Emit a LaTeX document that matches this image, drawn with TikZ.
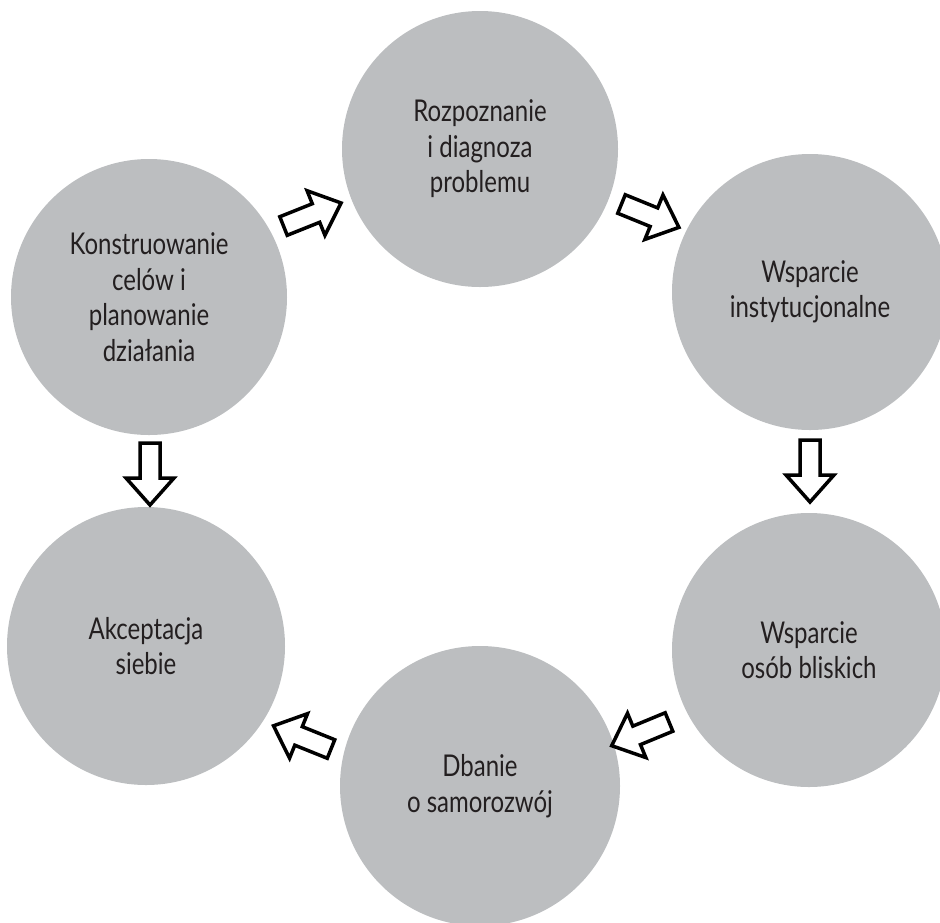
\documentclass[tikz,border=0pt]{standalone}
\usepackage{fontspec}
\setmainfont[FakeStretch=0.8]{Lato}
\usetikzlibrary{calc}
\definecolor{circ}{RGB}{188,190,192}
\definecolor{txt}{RGB}{35,31,32}
\tikzset{
  bubble/.style={circle, fill=circ, inner sep=0pt, minimum size=276pt, align=center,
    text=txt, font=\fontsize{30}{35.5}\selectfont},
  blockarrow/.pic={\draw[line width=3.5pt, fill=white, line join=miter, miter limit=10]
     (0,-10) -- (35,-10) -- (35,-24) -- (62,0) -- (35,24) -- (35,10) -- (0,10) -- cycle;}
}
\newcommand{\blockarr}[2]{\path let \p1=($(#2)-(#1)$), \n1={atan2(\y1,\x1)} in
  (#1) pic[rotate=\n1] {blockarrow};}
\begin{document}
\begin{tikzpicture}[x=1pt,y=-1pt]
\useasboundingbox (0,0) rectangle (940,922);
\clip (0,0) rectangle (940,922);
\node[bubble] (rozp) at (480,149) {Rozpoznanie\\i diagnoza\\problemu};
\node[bubble] (inst) at (810,292) {Wsparcie\\instytucjonalne};
\node[bubble] (kons) at (149,297) {Konstruowanie\\celów i\\planowanie\\działania};
\node[bubble, minimum size=278pt] (akce) at (146,646) {Akceptacja\\siebie};
\node[bubble, minimum size=274pt] (blis) at (809,650) {Wsparcie\\osób bliskich};
\node[bubble, minimum size=280pt] (dban) at (480,786) {Dbanie\\o samorozwój};
\coordinate (a1s) at (283.5,226); \coordinate (a1t) at (341,203);
\coordinate (a2s) at (621.5,204); \coordinate (a2t) at (678,227);
\coordinate (a3s) at (810,440);   \coordinate (a3t) at (810,505);
\coordinate (a4s) at (669,722);   \coordinate (a4t) at (611,746);
\coordinate (a5s) at (331,749);   \coordinate (a5t) at (274,726);
\coordinate (a6s) at (150,443);   \coordinate (a6t) at (150,505);
\blockarr{a1s}{a1t}
\blockarr{a2s}{a2t}
\blockarr{a3s}{a3t}
\blockarr{a4s}{a4t}
\blockarr{a5s}{a5t}
\blockarr{a6s}{a6t}
\end{tikzpicture}
\end{document}
